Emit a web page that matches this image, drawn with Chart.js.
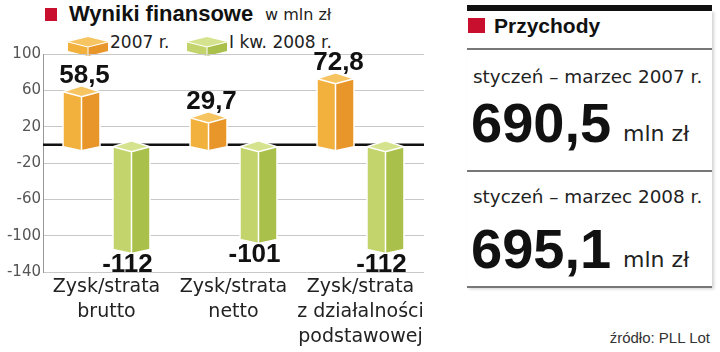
<!DOCTYPE html>
<html lang="pl">
<head>
<meta charset="utf-8">
<script src="https://cdn.jsdelivr.net/npm/chart.js@4.4.1/dist/chart.umd.min.js"></script>
<style>
  html, body { margin: 0; padding: 0; background: #fff; }
  body { width: 720px; height: 352px; position: relative; overflow: hidden; font-family: 'DejaVu Sans', sans-serif; color: #222; }
  .abs { position: absolute; line-height: 1; white-space: nowrap; }
  .bold { font-family: 'Liberation Sans', Arial, sans-serif; font-weight: 700; color: #111; }
  .red { position: absolute; background: #c8102e; }
  .rule { position: absolute; left: 467px; width: 245px; height: 2px; background: #777; }
  #chartBox { position: absolute; left: 0; top: 0; width: 440px; height: 352px; }
</style>
</head>
<body>

<div class="red" style="left:45px;top:8px;width:12px;height:13px"></div>
<div class="abs bold" style="left:69px;top:3px;font-size:22px">Wyniki finansowe</div>
<div class="abs" style="left:265px;top:7px;font-size:16px;color:#222">w mln zł</div>
<div id="legend"></div>

<div id="chartBox"><canvas id="chart" width="440" height="352"></canvas></div>

<div id="panel"></div>
<div class="abs" style="right:10px;top:330px;font-size:15px;font-family:'Liberation Sans',sans-serif;color:#333">źródło: PLL Lot</div>

<script>
// ===== Data =====
const categories = [
    ['Zysk/strata', 'brutto'],
    ['Zysk/strata', 'netto'],
    ['Zysk/strata', 'z działalności', 'podstawowej']
];
const seriesLabels = ['2007 r.', 'I kw. 2008 r.'];
const values2007 = [58.5, 29.7, 72.8];
const values2008 = [-112, -101, -112];
const yTicks = [100, 60, 20, -20, -60, -100, -140];

const revenuePeriods = ['styczeń – marzec 2007 r.', 'styczeń – marzec 2008 r.'];
const revenueValues = [690.5, 695.1];

// ===== Styles =====
const FACES = [
    { top: '#f7c462', left: '#f2b03c', right: '#e8952a' },
    { top: '#d6e38e', left: '#c4d46c', right: '#a9c04a' }
];
const LIGHT = "'DejaVu Sans', sans-serif";
const BOLD = "'Liberation Sans', Arial, sans-serif";

function fmt(v) {
    return Number.isInteger(v) ? String(v) : v.toFixed(1).replace('.', ',');
}

// legend (html, cube icons)
function cubeSvg(c) {
    return '<svg width="40" height="19" style="position:absolute;left:0;top:0">' +
        '<polygon points="0,5 20,0 40,5 20,10" fill="' + c.top + '"/>' +
        '<polygon points="0,5 20,10 20,19 0,14" fill="' + c.left + '"/>' +
        '<polygon points="20,10 40,5 40,14 20,19" fill="' + c.right + '"/>' +
        '<polyline points="0,5 20,10 40,5" fill="none" stroke="#fff" stroke-width="1"/>' +
        '<line x1="20" y1="10" x2="20" y2="19" stroke="#fff" stroke-width="1"/></svg>';
}
const legendPos = [68, 187];
document.getElementById('legend').innerHTML = seriesLabels.map((l, i) =>
    '<div style="position:absolute;left:' + legendPos[i] + 'px;top:37px;width:40px;height:19px">' + cubeSvg(FACES[i]) + '</div>' +
    '<div class="abs" style="left:' + (legendPos[i] + 42) + 'px;top:34px;font-size:17px">' + l + '</div>'
).join('');

// right panel
const panelRows = [
    { period: 68, value: 95, unit: 123, rule: 171 },
    { period: 188, value: 221, unit: 249, rule: 287 }
];
let html = '<div style="position:absolute;left:467px;top:5px;width:245px;height:6px;background:#111"></div>' +
    '<div style="position:absolute;left:467px;top:11px;width:245px;height:277px;box-shadow:2px 1px 3px rgba(0,0,0,0.18)"></div>' +
    '<div class="red" style="left:468px;top:18px;width:17px;height:15px"></div>' +
    '<div class="abs bold" style="left:494px;top:15px;font-size:21px">Przychody</div>' +
    '<div class="rule" style="top:48px"></div>';
revenuePeriods.forEach((p, i) => {
    const r = panelRows[i];
    html += '<div class="abs" style="left:473px;top:' + r.period + 'px;font-size:18.4px">' + p + '</div>' +
        '<div class="abs bold" style="left:471px;top:' + r.value + 'px;font-size:56px">' + fmt(revenueValues[i]) + '</div>' +
        '<div class="abs" style="left:623px;top:' + r.unit + 'px;font-size:22px">mln zł</div>' +
        '<div class="rule" style="top:' + (r.rule - 1) + 'px"></div>';
});
document.getElementById('panel').innerHTML = html;

// ===== 3D box plugin =====
function drawBox(ctx, L, R, top, bot, c) {
    const M = (L + R) / 2;
    ctx.beginPath();
    ctx.moveTo(L, top); ctx.lineTo(M, top + 5); ctx.lineTo(M, bot + 4); ctx.lineTo(L, bot); ctx.closePath();
    ctx.fillStyle = c.left; ctx.fill();
    ctx.beginPath();
    ctx.moveTo(M, top + 5); ctx.lineTo(R, top); ctx.lineTo(R, bot); ctx.lineTo(M, bot + 4); ctx.closePath();
    ctx.fillStyle = c.right; ctx.fill();
    ctx.beginPath();
    ctx.moveTo(L, top); ctx.lineTo(M, top - 6); ctx.lineTo(R, top); ctx.lineTo(M, top + 5); ctx.closePath();
    ctx.fillStyle = c.top; ctx.fill();

    ctx.strokeStyle = '#fff';
    ctx.lineWidth = 1.5;
    ctx.beginPath();
    ctx.moveTo(L, top); ctx.lineTo(M, top + 5); ctx.lineTo(R, top);
    ctx.moveTo(M, top + 5); ctx.lineTo(M, bot + 4);
    ctx.stroke();
    ctx.beginPath();
    ctx.moveTo(L, top); ctx.lineTo(M, top - 6); ctx.lineTo(R, top); ctx.lineTo(R, bot);
    ctx.lineTo(M, bot + 4); ctx.lineTo(L, bot); ctx.closePath();
    ctx.stroke();
}

const box3d = {
    id: 'box3d',
    beforeDatasetsDraw(chart) {
        const { ctx, chartArea, scales: { y } } = chart;
        const y0 = y.getPixelForValue(0);
        ctx.save();
        ctx.strokeStyle = '#111';
        ctx.lineWidth = 2.5;
        ctx.beginPath();
        ctx.moveTo(chartArea.left, y0);
        ctx.lineTo(chartArea.right, y0);
        ctx.stroke();
        ctx.restore();
    },
    afterDatasetsDraw(chart) {
        const ctx = chart.ctx;
        ctx.save();
        chart.data.datasets.forEach((ds, di) => {
            chart.getDatasetMeta(di).data.forEach((bar, i) => {
                const { x, y, base, width } = bar.getProps(['x', 'y', 'base', 'width'], true);
                const L = x - width / 2, R = x + width / 2;
                const v = ds.data[i];
                let top, bot;
                if (v >= 0) { top = y; bot = base + 2; } else { top = base + 2; bot = y + 3; }
                drawBox(ctx, L, R, top, bot, FACES[di]);

                ctx.fillStyle = '#111';
                ctx.font = 'bold 26px ' + BOLD;
                ctx.textAlign = 'center';
                ctx.textBaseline = 'alphabetic';
                if (v >= 0) ctx.fillText(fmt(v), x + 3, top - 9);
                else ctx.fillText(fmt(v), x - 4, y + 25);
            });
        });
        ctx.restore();
    }
};

new Chart(document.getElementById('chart'), {
    type: 'bar',
    data: {
        labels: categories,
        datasets: [
            { label: seriesLabels[0], data: values2007, backgroundColor: 'rgba(0,0,0,0)' },
            { label: seriesLabels[1], data: values2008, backgroundColor: 'rgba(0,0,0,0)' }
        ]
    },
    options: {
        responsive: false,
        animation: false,
        devicePixelRatio: 1,
        layout: { padding: { top: 54, right: 16, left: 0, bottom: 0 } },
        datasets: { bar: { categoryPercentage: 0.787, barPercentage: 0.74 } },
        plugins: { legend: { display: false }, tooltip: { enabled: false } },
        scales: {
            x: {
                grid: { display: false, drawTicks: false },
                border: { display: false },
                ticks: {
                    color: '#222', padding: 3, maxRotation: 0, autoSkip: false,
                    font: { family: LIGHT, size: 19, lineHeight: 25 / 19 }
                },
                afterFit(scale) { scale.height = 80; }
            },
            y: {
                min: -140, max: 100,
                afterBuildTicks(scale) { scale.ticks = yTicks.map(v => ({ value: v })); },
                afterFit(scale) { scale.width = 43; },
                grid: { color: '#c8c8c8', lineWidth: 1, drawTicks: false },
                border: { color: '#999' },
                ticks: {
                    color: '#555', padding: 2,
                    font: { family: LIGHT, size: 15 }
                }
            }
        }
    },
    plugins: [box3d]
});
</script>
</body>
</html>
